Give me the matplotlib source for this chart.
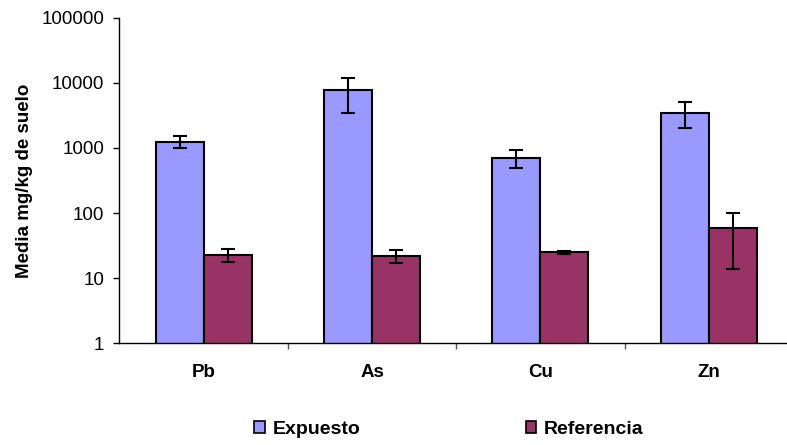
import matplotlib
matplotlib.use("Agg")
import matplotlib.pyplot as plt
import numpy as np

plt.rcParams['font.family'] = ['Liberation Sans', 'DejaVu Sans']

metals = ["Pb", "As", "Cu", "Zn"]
expuesto = [1250, 7700, 710, 3500]
expuesto_err = [250, 4200, 220, 1500]
referencia = [23, 22, 25, 58]
referencia_err = [5, 5, 1.2, 44]
yticks = [1, 10, 100, 1000, 10000, 100000]

fig = plt.figure(figsize=(7.87, 4.45), dpi=100)
ax = fig.add_axes([0.1518, 0.2285, 0.8558, 0.7317])

x = np.arange(len(metals))
w = 0.285
ekw = dict(elinewidth=1.5, capthick=1.5, ecolor="black")
ax.bar(x - w / 2, expuesto, w, color="#9999FF", edgecolor="black", linewidth=1.5,
       yerr=expuesto_err, capsize=4.7, error_kw=ekw, label="Expuesto", zorder=2)
ax.bar(x + w / 2, referencia, w, color="#993366", edgecolor="black", linewidth=1.5,
       yerr=referencia_err, capsize=4.7, error_kw=ekw, label="Referencia", zorder=2)

ax.set_yscale("log")
ax.set_ylim(1, 100000)
ax.set_xlim(-0.5, len(metals) - 0.5)
ax.set_yticks(yticks)
ax.set_yticklabels([str(v) for v in yticks])
ax.yaxis.set_minor_locator(matplotlib.ticker.NullLocator())
ax.tick_params(axis="y", direction="out", length=4, width=1, labelsize=13.5, pad=7)

ax.set_xticks(x)
ax.set_xticklabels(metals, fontweight="bold", fontsize=13.5)
ax.tick_params(axis="x", length=0, pad=15)
ax.set_xticks(np.arange(0.5, len(metals) - 0.5, 1.0), minor=True)
ax.tick_params(axis="x", which="minor", direction="out", length=4, width=1, color="#555555")

for s in ["top", "right"]:
    ax.spines[s].set_visible(False)
ax.spines["left"].set_linewidth(1)
ax.spines["bottom"].set_linewidth(1)

ax.set_ylabel("Media mg/kg de suelo", fontweight="bold", fontsize=13.5, labelpad=6)

leg = fig.legend(loc="center", bbox_to_anchor=(0.5705, 0.035), ncol=2, frameon=False,
                 prop=dict(weight="bold", size=14), columnspacing=8.5,
                 handlelength=0.55, handleheight=0.55, handletextpad=0.4)
for h in leg.legend_handles:
    h.set_linewidth(1.2)

fig.savefig("out.png", dpi=100)
